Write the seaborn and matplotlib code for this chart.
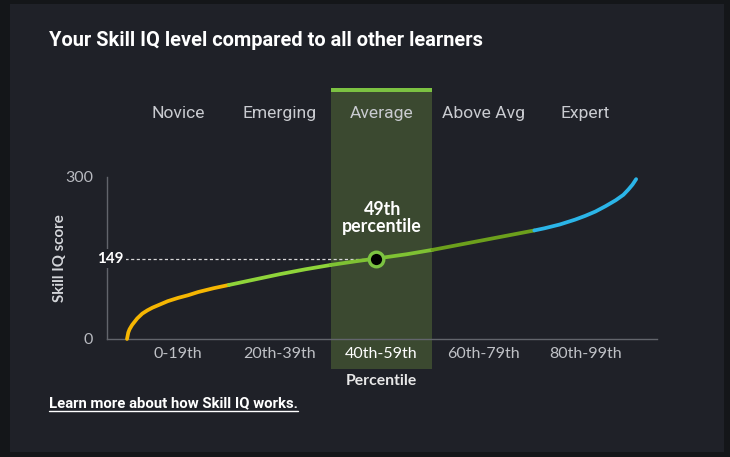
import pandas as pd
import seaborn as sns
import matplotlib.pyplot as plt
from matplotlib.patches import Rectangle

# percentile -> Skill IQ score
percentiles = [0, 0.25, 0.5, 1, 2, 3, 4, 5, 6.5, 8, 10, 12, 14, 17, 20, 25, 30, 35, 40, 45, 49,
               55, 60, 65, 70, 75, 80, 82, 85, 88, 90, 92, 94, 96, 97.5, 98.5, 99.3, 100]
scores = [0, 12, 18, 26, 38, 47, 53, 58, 64, 70, 76, 81, 87, 94, 100, 110, 120, 129, 137, 144, 149,
          157, 165, 174, 183, 192, 201, 205, 212, 221, 228, 236, 246, 257, 267, 277, 286, 296]

levels = ["Novice", "Emerging", "Average", "Above Avg", "Expert"]
bands = ["0-19th", "20th-39th", "40th-59th", "60th-79th", "80th-99th"]
band_edges = [0, 20, 40, 60, 80, 100]
band_colors = ["#f5b602", "#8fd43a", "#7fc233", "#6c9f1c", "#2bb5e8"]

your_pct = 49
your_score = 149
highlight = 2  # Average

card = "#1f2128"
outer = "#141619"

# each band gets its own segment, sharing the edge points
rows = []
for i, name in enumerate(bands):
    lo, hi = band_edges[i], band_edges[i + 1]
    for p, s in zip(percentiles, scores):
        if lo <= p <= hi:
            rows.append({"percentile": p, "score": s, "band": name})
df = pd.DataFrame(rows)

sns.set_theme(style="dark")
plt.rcParams["font.family"] = ["Lato", "DejaVu Sans"]

fig = plt.figure(figsize=(7.3, 4.57), dpi=100, facecolor=outer)
fig.patches.append(Rectangle((10 / 730, 5 / 457), 714 / 730, 448 / 457,
                             transform=fig.transFigure, facecolor=card,
                             edgecolor="none", zorder=-5))

ax = fig.add_axes([107 / 730, 88 / 457, 550 / 730, 281 / 457])
ax.set_facecolor("none")
ax.set_xlim(-3.93, 104.1)
ax.set_ylim(-55.6, 464.8)

# highlighted band
ax.axvspan(band_edges[highlight], band_edges[highlight + 1], color="#3b4930", zorder=0, lw=0)
ax.axvspan(band_edges[highlight], band_edges[highlight + 1], ymin=1 - 4 / 281, ymax=1,
           color="#7cc242", zorder=1, lw=0)

sns.lineplot(data=df, x="percentile", y="score", hue="band", palette=band_colors,
             hue_order=bands, linewidth=2.7, legend=False, ax=ax, zorder=3,
             solid_capstyle="round", solid_joinstyle="round")

ax.hlines(your_score, -0.4, your_pct, colors="#d8d8d8", linestyles=(0, (2.5, 2)),
          linewidth=0.9, zorder=2)
sns.scatterplot(x=[your_pct], y=[your_score], s=110, color="black",
                edgecolor="#7cc242", linewidth=2.4, ax=ax, zorder=5)

ax.text(50.1, 224, f"{your_pct}th\npercentile", ha="center", va="center",
        color="white", fontsize=12.8, fontweight="bold", linespacing=1.0, zorder=6)

# spines and ticks
for side in ["top", "right"]:
    ax.spines[side].set_visible(False)
ax.spines["left"].set_bounds(0, 300)
ax.spines["bottom"].set_position(("data", 0))
for side in ["left", "bottom"]:
    ax.spines[side].set_color("#62656c")
    ax.spines[side].set_linewidth(1.0)

ax.set_xticks(band_edges)
ax.set_xticklabels([])
ax.set_xticks([(band_edges[i] + band_edges[i + 1]) / 2 for i in range(len(bands))], minor=True)
ax.set_xticklabels(bands, minor=True)
ax.tick_params(axis="x", which="major", length=3, width=1, color="#62656c", direction="out")
ax.tick_params(axis="x", which="minor", length=0, pad=6, labelsize=11.5, labelcolor="#bfc1c6")
for lab in ax.get_xticklabels(minor=True):
    if lab.get_text() == bands[highlight]:
        lab.set_color("white")

ax.set_yticks([0, 300])
ax.set_yticklabels(["0", "300"])
ax.tick_params(axis="y", length=7, width=1, color="#62656c", pad=3,
               labelsize=11.5, labelcolor="#b8bac0")
ax.text(-3.2, your_score, str(your_score), ha="center", va="center", color="white",
        fontsize=11, fontweight="bold", zorder=6,
        bbox=dict(facecolor=card, edgecolor="none", pad=1.5))

ax.set_xlabel("")
ax.set_ylabel("")
ax.text(50, -77, "Percentile", ha="center", va="center", color="#e8e8e8",
        fontsize=11.3, fontweight="bold", clip_on=False)
fig.text(60 / 730, 1 - 258 / 457, "Skill IQ score", rotation=90, ha="center", va="center",
         color="#d4d6da", fontsize=10.8, fontweight="bold")

for i, name in enumerate(levels):
    ax.text((band_edges[i] + band_edges[i + 1]) / 2, 418.5, name, ha="center", va="center",
            color="#c9cbd0", fontsize=12.6, family=["Roboto", "DejaVu Sans"])

fig.text(49 / 730, 1 - 40 / 457, "Your Skill IQ level compared to all other learners",
         ha="left", va="center", color="white", fontsize=14.45, fontweight="bold",
         family=["Roboto", "DejaVu Sans"])

# underlined link text
link = fig.text(49 / 730, 1 - 403 / 457, "Learn more about how Skill IQ works.",
                ha="left", va="center", color="white", fontsize=10.7, fontweight="bold",
                family=["Roboto", "DejaVu Sans"])
fig.canvas.draw()
bb = link.get_window_extent()
fig.add_artist(plt.Line2D([bb.x0 / 730, bb.x1 / 730], [(bb.y0 - 1) / 457, (bb.y0 - 1) / 457],
                          transform=fig.transFigure, color="white", linewidth=1))

fig.savefig("out.png", dpi=100, facecolor=outer)
